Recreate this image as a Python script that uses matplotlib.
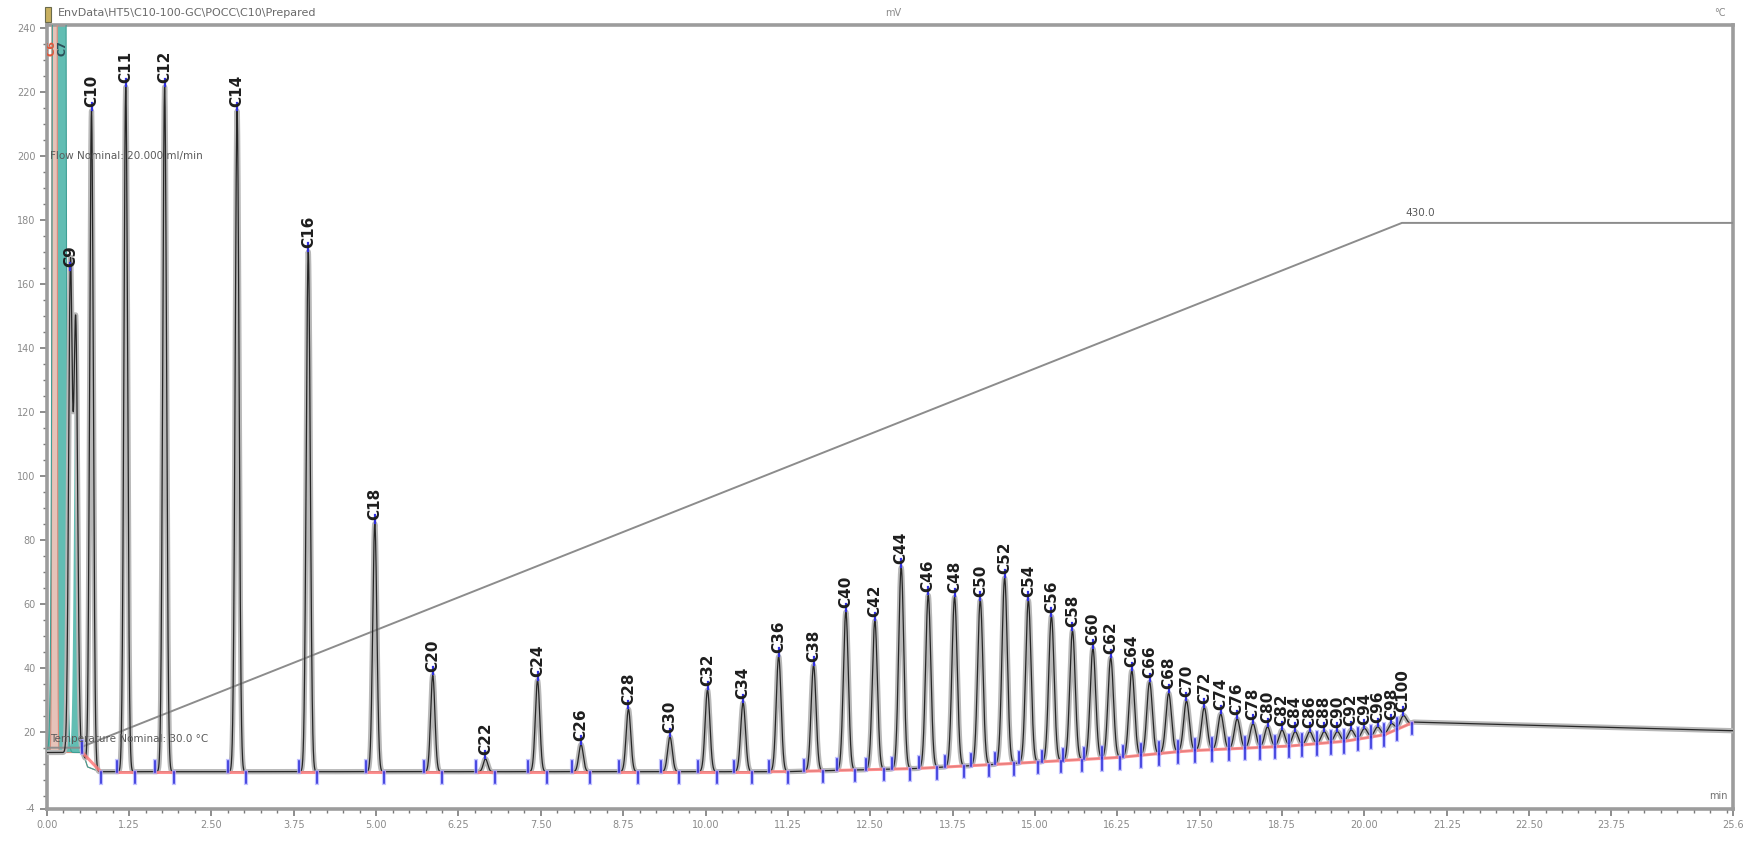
import numpy as np
import matplotlib
matplotlib.use("Agg")
import matplotlib.pyplot as plt
from matplotlib.patches import Rectangle

# ---------------- data ----------------
peak_names = ["C9", "C10", "C11", "C12", "C14", "C16", "C18", "C20", "C22", "C24",
              "C26", "C28", "C30", "C32", "C34", "C36", "C38", "C40", "C42", "C44",
              "C46", "C48", "C50", "C52", "C54", "C56", "C58", "C60", "C62", "C64",
              "C66", "C68", "C70", "C72", "C74", "C76", "C78", "C80", "C82", "C84",
              "C86", "C88", "C90", "C92", "C94", "C96", "C98", "C100"]
peak_times = [0.36, 0.68, 1.20, 1.79, 2.89, 3.97, 4.98, 5.86, 6.66, 7.45,
              8.11, 8.83, 9.46, 10.03, 10.57, 11.11, 11.64, 12.13, 12.57, 12.97,
              13.38, 13.78, 14.17, 14.54, 14.90, 15.25, 15.57, 15.88, 16.15, 16.47,
              16.74, 17.03, 17.30, 17.57, 17.82, 18.07, 18.31, 18.53, 18.75, 18.95,
              19.17, 19.39, 19.59, 19.80, 20.00, 20.20, 20.41, 20.59]
peak_heights = [164, 214, 221.5, 221.5, 214, 170, 85, 37.6, 11.5, 36,
                16, 27, 18.4, 33, 29, 43.5, 40.7, 57.4, 54.6, 71.3,
                62.6, 62, 61, 68, 61, 56, 51.5, 46, 43, 39,
                35.5, 32, 29.6, 27.5, 25.5, 24, 22.5, 21.5, 20.5, 20,
                20, 20, 20, 20.5, 21, 21.5, 22.5, 25]

# off-scale solvent peaks
solvent_times = [0.12, 0.19]
solvent_heights = [5000, 5000]
solvent_labels = ["C6", "C7"]
shoulder_time = [0.44]
shoulder_height = [148]

# signal background / column bleed
baseline_t = [0.0, 0.55, 0.62, 0.80, 11.2, 13.2, 14.6, 16.3, 17.3, 18.85, 19.7, 20.3, 20.75, 25.6]
baseline_v = [13.5, 13.5, 9.0, 7.5, 7.5, 8.5, 10.0, 12.0, 14.0, 15.5, 17.0, 19.0, 23.0, 20.3]

# oven temperature program (drawn on signal scale)
temp_t = [0.0, 0.5, 20.57, 25.6]
temp_v = [15, 15, 179, 179]

x_major = [0.00, 1.25, 2.50, 3.75, 5.00, 6.25, 7.50, 8.75, 10.00, 11.25, 12.50,
           13.75, 15.00, 16.25, 17.50, 18.75, 20.00, 21.25, 22.50, 23.75, 25.6]
x_labels = ["0.00", "1.25", "2.50", "3.75", "5.00", "6.25", "7.50", "8.75", "10.00",
            "11.25", "12.50", "13.75", "15.00", "16.25", "17.50", "18.75", "20.00",
            "21.25", "22.50", "23.75", "25.6"]
y_major = [-4, 20, 40, 60, 80, 100, 120, 140, 160, 180, 200, 220, 240]
y_labels = ["-4", "20", "40", "60", "80", "100", "120", "140", "160", "180", "200", "220", "240"]

XMIN, XMAX = 0.0, 25.6
YMIN, YMAX = -4, 241

# ---------------- figure ----------------
W, H = 1745, 841
fig = plt.figure(figsize=(W / 100, H / 100), dpi=100)
ax = fig.add_axes([46.7 / W, 1 - 808.5 / H, 1686.6 / W, 784 / H])
ax.set_xlim(XMIN, XMAX)
ax.set_ylim(YMIN, YMAX)

t = np.linspace(XMIN, XMAX, 20001)
bg = np.interp(t, baseline_t, baseline_v)


def shape(tc, sig):
    return np.exp(-0.5 * ((t - tc) / sig) ** 2)


sig_total = bg.copy()
for tc, h in zip(peak_times, peak_heights):
    s = 0.027 + 0.0009 * tc
    sig_total += (h - np.interp(tc, baseline_t, baseline_v)) * shape(tc, s)

# solvent peaks (filled)
pink = solvent_heights[0] * shape(solvent_times[0], 0.016)
teal = solvent_heights[1] * shape(solvent_times[1], 0.042)
sh = (shoulder_height[0] - 13.5) * shape(shoulder_time[0], 0.03)
ax.fill_between(t, bg, bg + teal, color="#62bdb3", lw=0, zorder=2)
ax.fill_between(t, bg, bg + sh, where=(t > 0.36) & (t < 0.52), color="#62bdb3", lw=0, zorder=2)
ax.fill_between(t, bg, bg + pink, color="#e6c3b9", lw=0, zorder=2)
ax.plot(t, bg + pink, color="#d88c7c", lw=0.8, zorder=3)
ax.plot(t, bg + teal, color="#3f9f95", lw=0.8, zorder=3)
sig_total = sig_total + sh

# chromatogram trace
ax.plot(t, sig_total, color="#b8b8b8", lw=3.8, zorder=3, solid_joinstyle="round")
ax.plot(t, sig_total, color="#262626", lw=0.9, zorder=4)

# temperature program
ax.plot(temp_t, temp_v, color="#8c8c8c", lw=1.4, zorder=3)

# integration baselines + delimiters
pt = peak_times[1:]
for i, tc in enumerate(pt):
    left = tc - 0.14 if i == 0 else max(tc - 0.14, 0.5 * (pt[i - 1] + tc))
    right = tc + 0.14 if i == len(pt) - 1 else min(tc + 0.14, 0.5 * (pt[i + 1] + tc))
    bl = np.interp(left, baseline_t, baseline_v)
    br = np.interp(right, baseline_t, baseline_v)
    ax.plot([left, right], [bl, br], color="#ff7b7b", lw=2.2, alpha=0.85, zorder=5)
    for xx, y0, y1 in ((left, bl, bl + 3.5), (right, br - 3.5, br)):
        ax.plot([xx, xx], [y0, y1], color="#a8a8ff", lw=3.0, alpha=0.7, zorder=5)
        ax.plot([xx, xx], [y0, y1], color="#2828d8", lw=1.1, zorder=6)

# peak labels with apex markers
for name, tc, h in zip(peak_names, peak_times, peak_heights):
    ax.plot([tc, tc], [h + 0.3, h + 2.6], color="#3030e0", lw=1.6, zorder=6)
    ax.text(tc, h + 1.2, name, rotation=90, ha="center", va="bottom",
            fontsize=11, fontweight="bold", color="#1e1e1e", zorder=7)
ax.text(0.07, 231, solvent_labels[0], rotation=90, ha="center", va="bottom",
        fontsize=8, fontweight="bold", color="#e0583c", zorder=7, clip_on=True)
ax.text(0.24, 231, solvent_labels[1], rotation=90, ha="center", va="bottom",
        fontsize=8, fontweight="bold", color="#2d4f58", zorder=7, clip_on=True)

# annotations
ax.text(0.05, 200, "Flow Nominal: 20.000 ml/min", fontsize=7.5, color="#5a5a5a",
        va="center", ha="left", zorder=8)
ax.text(0.05, 17.6, "Temperature Nominal: 30.0 °C", fontsize=7.5, color="#5a5a5a",
        va="center", ha="left", zorder=8)
ax.text(20.62, 180.5, "430.0", fontsize=7.5, color="#5a5a5a", va="bottom", ha="left", zorder=8)
ax.text(0.991, 0.016, "min", transform=ax.transAxes, fontsize=7, color="#707070",
        ha="center", va="center")

# axes styling
for sname, sp in ax.spines.items():
    sp.set_color("#9c9c9c")
    sp.set_linewidth(2.6)
ax.set_xticks(x_major)
ax.set_xticklabels(x_labels)
ax.set_yticks(y_major)
ax.set_yticklabels(y_labels)
ax.set_xticks(np.arange(0, 25.6, 0.25), minor=True)
ax.set_yticks(np.arange(0, 241, 5), minor=True)
ax.tick_params(axis="both", which="major", direction="out", length=5, width=1.2,
               color="#7a7a7a", labelsize=7, labelcolor="#8a8a8a", pad=3)
ax.tick_params(axis="both", which="minor", direction="out", length=3, width=1.0, color="#7a7a7a")
ax.tick_params(axis="y", which="both", right=False)
ax.set_facecolor("white")

# header
fig.patches.append(Rectangle((45 / W, 1 - 22 / H), 6 / W, 15 / H, transform=fig.transFigure,
                             facecolor="#c8b060", edgecolor="#6a6a4a", lw=0.8))
fig.text(58 / W, 1 - 13 / H, "EnvData\\HT5\\C10-100-GC\\POCC\\C10\\Prepared",
         fontsize=8, color="#6a6a6a", va="center", ha="left")
fig.text(893 / W, 1 - 13 / H, "mV", fontsize=7, color="#8a8a8a", va="center", ha="center")
fig.text(1720 / W, 1 - 13 / H, "°C", fontsize=7, color="#8a8a8a", va="center", ha="center")

fig.savefig("out.png", dpi=100, facecolor="white")
